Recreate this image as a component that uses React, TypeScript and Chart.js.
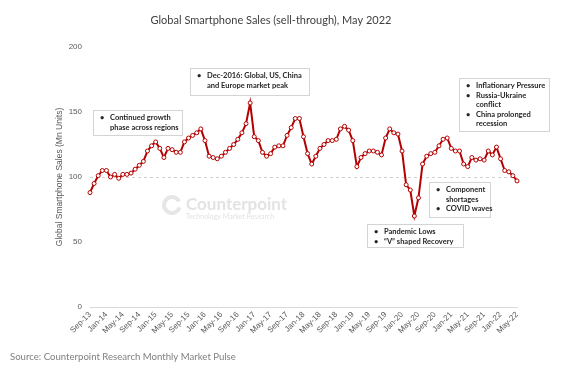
import React, { useEffect, useRef } from "react";
import { Chart, registerables } from "chart.js";

Chart.register(...registerables);

const months = ["Jan", "Feb", "Mar", "Apr", "May", "Jun", "Jul", "Aug", "Sep", "Oct", "Nov", "Dec"];

// Sep-13 .. May-22 (monthly)
const categories: string[] = [];
for (let y = 2013; y <= 2022; y++) {
  for (let m = 0; m < 12; m++) {
    if (y === 2013 && m < 8) continue;
    if (y === 2022 && m > 4) continue;
    categories.push(`${months[m]}-${String(y).slice(2)}`);
  }
}

const salesMnUnits = [
  88, 95, 101, 105, // 2013 Sep-Dec
  105, 100, 102, 99, 102, 102, 103, 106, 109, 112, 120, 124, // 2014
  127, 122, 115, 122, 121, 119, 119, 127, 130, 132, 134, 137, // 2015
  128, 116, 115, 114, 116, 119, 122, 125, 129, 134, 141, 157, // 2016
  131, 128, 119, 116, 118, 123, 124, 124, 132, 138, 145, 145, // 2017
  131, 118, 110, 116, 122, 125, 128, 128, 129, 137, 139, 136, // 2018
  128, 108, 115, 118, 120, 120, 119, 117, 130, 137, 134, 133, // 2019
  120, 94, 90, 70, 84, 110, 116, 118, 119, 124, 129, 130, // 2020
  122, 120, 120, 110, 108, 115, 113, 114, 113, 120, 117, 123, // 2021
  114, 105, 104, 101, 97, // 2022 Jan-May
];

const yTicks = [0, 50, 100, 150, 200];

const titleText = "Global Smartphone Sales (sell-through), May 2022";
const sourceText = "Source: Counterpoint Research Monthly Market Pulse";
const yAxisTitle = "Global Smartphone Sales (Mn Units)";

type Note = { x: number; y: number; w: number; h: number; items: string[][] };
const notes: Note[] = [
  { x: 93, y: 110, w: 89, h: 25, items: [["Continued growth", "phase across regions"]] },
  { x: 190, y: 68, w: 119, h: 27, items: [["Dec-2016: Global, US, China", "and Europe market peak"]] },
  { x: 459, y: 78, w: 90, h: 53, items: [["Inflationary Pressure"], ["Russia-Ukraine", "conflict"], ["China prolonged", "recession"]] },
  { x: 429, y: 182, w: 61, h: 35, items: [["Component", "shortages"], ["COVID waves"]] },
  { x: 367, y: 224, w: 96, h: 23, items: [["Pandemic Lows"], ["\u201CV\u201D shaped Recovery"]] },
];

const decorPlugin = {
  id: "decor",
  beforeDatasetsDraw(chart: any) {
    const { ctx, chartArea, scales } = chart;
    ctx.save();
    // watermark
    ctx.strokeStyle = "#e6e6e6";
    ctx.lineWidth = 4;
    ctx.beginPath();
    ctx.arc(172, 205, 8, Math.PI * 0.1, Math.PI * 1.85);
    ctx.stroke();
    ctx.fillStyle = "#e3e3e3";
    ctx.font = "bold 17px Lato";
    ctx.textBaseline = "alphabetic";
    ctx.textAlign = "left";
    ctx.fillText("Counterpoint", 186, 210);
    ctx.font = "7px Lato";
    ctx.fillText("Technology Market Research", 186, 219);
    // dashed line at 100
    const y = scales.y.getPixelForValue(100);
    ctx.strokeStyle = "#d0d0d0";
    ctx.lineWidth = 1;
    ctx.setLineDash([3, 3]);
    ctx.beginPath();
    ctx.moveTo(chartArea.left, Math.round(y) + 0.5);
    ctx.lineTo(chartArea.right, Math.round(y) + 0.5);
    ctx.stroke();
    ctx.restore();
  },
  afterDraw(chart: any) {
    const { ctx } = chart;
    ctx.save();
    ctx.textBaseline = "middle";
    ctx.textAlign = "center";
    ctx.fillStyle = "#404040";
    ctx.font = "11px Lato";
    ctx.fillText(titleText, 271, 20);
    ctx.textAlign = "left";
    ctx.fillStyle = "#808080";
    ctx.font = "9.6px Lato";
    ctx.fillText(sourceText, 10, 357);
    // notes
    for (const n of notes) {
      ctx.fillStyle = "#ffffff";
      ctx.fillRect(n.x, n.y, n.w, n.h);
      ctx.strokeStyle = "#d4d4d4";
      ctx.lineWidth = 1;
      ctx.strokeRect(n.x + 0.5, n.y + 0.5, n.w, n.h);
      ctx.fillStyle = "#262626";
      ctx.font = "bold 7.5px Lato";
      let ly = n.y + 8;
      const lh = 9.4;
      for (const item of n.items) {
        item.forEach((line, i) => {
          if (i === 0) ctx.fillText("\u2022", n.x + 7, ly);
          ctx.fillText(line, n.x + 17, ly);
          ly += lh;
        });
      }
    }
    ctx.restore();
  },
};

export default function App() {
  const ref = useRef<HTMLCanvasElement | null>(null);
  useEffect(() => {
    if (!ref.current) return;
    const chart = new Chart(ref.current, {
      type: "line",
      data: {
        labels: categories,
        datasets: [
          {
            data: salesMnUnits,
            borderColor: "#b40000",
            borderWidth: 2,
            pointRadius: 2,
            pointBorderWidth: 1,
            pointBackgroundColor: "#ffffff",
            pointBorderColor: "#b40000",
            tension: 0,
          },
        ],
      },
      options: {
        responsive: false,
        animation: false,
        layout: { padding: { left: 54, top: 47, right: 48, bottom: 0 } },
        plugins: { legend: { display: false }, tooltip: { enabled: false } },
        scales: {
          x: {
            grid: { display: false, drawTicks: false },
            border: { display: true, color: "#d9d9d9" },
            afterFit: (s: any) => { s.height = 67; },
            ticks: {
              autoSkip: false,
              maxRotation: 45,
              minRotation: 45,
              padding: 3,
              color: "#595959",
              font: { family: "Liberation Sans", size: 8 },
              callback: (_v: any, i: number) => (i % 4 === 0 ? categories[i] : ""),
            },
          },
          y: {
            min: 0,
            max: 200,
            afterBuildTicks: (s: any) => { s.ticks = yTicks.map((v) => ({ value: v })); },
            afterFit: (s: any) => { s.width = 36; },
            grid: { display: false, drawTicks: false },
            border: { display: false },
            ticks: { padding: 8, color: "#595959", font: { family: "Liberation Sans", size: 8 } },
            title: {
              display: true,
              text: yAxisTitle,
              color: "#595959",
              font: { family: "Liberation Sans", size: 8.5 },
              padding: { top: 1, bottom: 0 },
            },
          },
        },
      },
      plugins: [decorPlugin],
    });
    return () => chart.destroy();
  }, []);
  return (
    <div style={{ position: "absolute", left: 0, top: 0, width: 565, height: 374, background: "#fff" }}>
      <canvas ref={ref} width={565} height={374} style={{ display: "block" }} />
    </div>
  );
}
